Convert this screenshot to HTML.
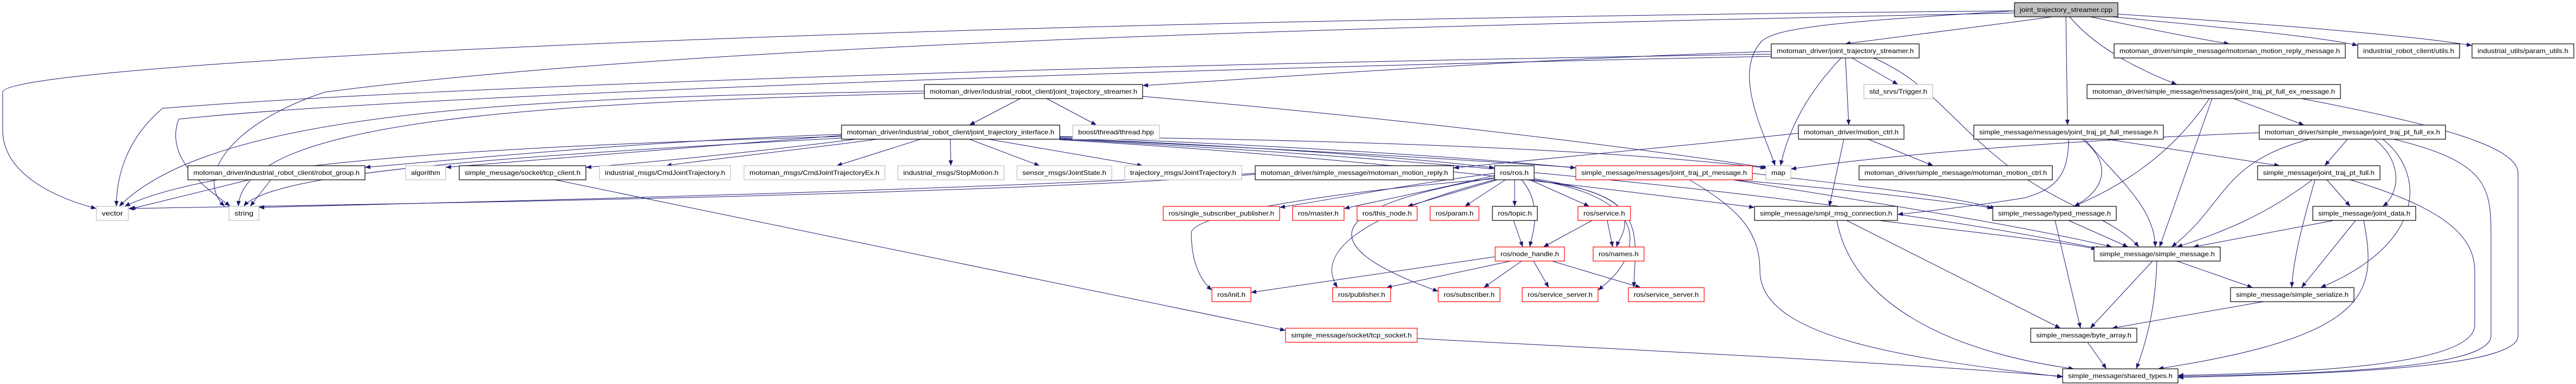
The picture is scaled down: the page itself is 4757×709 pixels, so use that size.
<!DOCTYPE html>
<html><head><meta charset="utf-8"><style>
html,body{margin:0;padding:0;background:#fff;}
svg{display:block;}
text{font-family:"Liberation Sans",sans-serif;font-size:12px;fill:#000;}
.b{fill:#fff;stroke:#000;stroke-width:1.2;}
.g{fill:#fff;stroke:#bfbfbf;stroke-width:1.2;}
.r{fill:#fff;stroke:#ff0000;stroke-width:1.2;}
.root{fill:#bfbfbf;stroke:#000;stroke-width:1.2;}
path.e{fill:none;stroke:#191970;stroke-width:1;marker-end:url(#a);}
</style></head><body>
<svg width="4757" height="709" viewBox="0 0 4757 709" xmlns="http://www.w3.org/2000/svg">
<defs><marker id="a" markerUnits="userSpaceOnUse" markerWidth="10" markerHeight="8" refX="10" refY="4" orient="auto"><path d="M0,0 L10,4 L0,8 z" fill="#191970"/></marker></defs>
<g>
<path class="e" d="M3790,31 C3650,50 3500,70 3407,81"/>
<path class="e" d="M3860,31 C3950,50 4050,70 4117,81"/>
<path class="e" d="M3900,31 C4100,50 4300,70 4354,84"/>
<path class="e" d="M3911,26 C4200,45 4450,65 4565,84"/>
<path class="e" d="M3822,31 C3880,100 3980,140 4020,156"/>
<path class="e" d="M3815,31 L3818,231"/>
<path class="e" d="M3720,20 C3400,40 3270,50 3250,80 C3200,140 3260,250 3278,306"/>
<path class="e" d="M3720,20 C1500,40 5,120 5,170 L5,240 C5,320 100,365 178,385"/>
<path class="e" d="M3720,24 C2500,50 1300,80 600,170 C420,230 360,330 415,381"/>
<path class="e" d="M3271,95 C2800,110 2400,140 2110,158"/>
<path class="e" d="M3420,107 L3505,156"/>
<path class="e" d="M3408,107 L3414,231"/>
<path class="e" d="M3400,107 C3330,180 3300,250 3288,306"/>
<path class="e" d="M3271,100 C2000,120 800,160 300,200 C230,260 215,330 215,381"/>
<path class="e" d="M3271,104 C2000,130 700,180 330,220 C300,300 400,360 425,381"/>
<path class="e" d="M3460,107 C3560,150 3600,220 3700,300 C3800,380 3900,400 3950,456"/>
<path class="e" d="M1884,182 L1790,231"/>
<path class="e" d="M1933,182 L2025,231"/>
<path class="e" d="M1707,168 C1000,180 400,200 220,381"/>
<path class="e" d="M1707,172 C1000,190 450,220 440,381"/>
<path class="e" d="M2110,178 C2600,220 3000,270 3265,310"/>
<path class="e" d="M1554,248 C1200,260 900,290 674,309"/>
<path class="e" d="M1554,250 C1300,270 1000,295 823,309"/>
<path class="e" d="M1580,257 C1400,280 1200,300 1082,309"/>
<path class="e" d="M1620,257 C1450,280 1300,295 1230,306"/>
<path class="e" d="M1700,257 L1545,306"/>
<path class="e" d="M1755,257 L1756,306"/>
<path class="e" d="M1790,257 L1920,306"/>
<path class="e" d="M1825,257 L2110,306"/>
<path class="e" d="M1957,255 C2300,270 2600,290 2760,310"/>
<path class="e" d="M1957,253 C2400,270 2700,290 2910,310"/>
<path class="e" d="M1957,252 C2600,260 3000,280 3261,310"/>
<path class="e" d="M1957,258 C2500,290 2900,340 3240,383"/>
<path class="e" d="M1957,256 C2700,290 3300,330 3680,384"/>
<path class="e" d="M1957,257 C2800,300 3500,380 3880,460"/>
<path class="e" d="M1554,252 C900,270 400,300 230,381"/>
<path class="e" d="M1554,255 C900,290 500,320 450,381"/>
<path class="e" d="M3321,246 C3100,270 2850,295 2684,310"/>
<path class="e" d="M3405,257 L3378,381"/>
<path class="e" d="M3450,257 L3570,306"/>
<path class="e" d="M2318,320 C1800,350 1000,370 478,383"/>
<path class="e" d="M2318,322 C1800,360 800,375 237,385"/>
<path class="e" d="M460,332 L240,386"/>
<path class="e" d="M500,332 L462,381"/>
<path class="e" d="M1025,332 L2374,610"/>
<path class="e" d="M2617,625 C3100,650 3500,670 3809,695"/>
<path class="e" d="M2760,320 C2600,340 2450,370 2363,383"/>
<path class="e" d="M2760,324 C2650,350 2550,370 2482,385"/>
<path class="e" d="M2765,332 L2599,381"/>
<path class="e" d="M2780,332 L2705,381"/>
<path class="e" d="M2797,332 L2797,381"/>
<path class="e" d="M2825,332 L2935,381"/>
<path class="e" d="M2810,332 C2850,380 2830,430 2825,456"/>
<path class="e" d="M2760,330 C2400,360 2200,400 2200,430 C2200,490 2220,520 2238,536"/>
<path class="e" d="M2833,330 C2900,340 2980,360 2995,390 C3010,420 2990,440 2985,456"/>
<path class="e" d="M2833,332 C2950,350 3010,390 3010,440 C3010,490 2970,520 2951,536"/>
<path class="e" d="M2833,334 C3000,350 3020,400 3020,470 L3017,531"/>
<path class="e" d="M2760,332 C2500,400 2430,470 2470,531"/>
<path class="e" d="M2760,328 C2450,380 2410,450 2656,538"/>
<path class="e" d="M2795,407 L2812,456"/>
<path class="e" d="M2940,407 L2850,456"/>
<path class="e" d="M2968,407 L2978,456"/>
<path class="e" d="M2761,474 L2310,540"/>
<path class="e" d="M2790,482 L2560,531"/>
<path class="e" d="M2810,482 L2740,531"/>
<path class="e" d="M2832,482 L2860,531"/>
<path class="e" d="M2866,482 L3030,531"/>
<path class="e" d="M3236,320 C3400,340 3600,360 3685,385"/>
<path class="e" d="M3200,332 C3500,380 3750,420 3900,456"/>
<path class="e" d="M3120,332 C3200,380 3250,420 3250,500 C3250,620 3500,660 3809,696"/>
<path class="e" d="M3470,407 C3650,430 3800,445 3872,460"/>
<path class="e" d="M3410,407 L3805,606"/>
<path class="e" d="M3392,407 C3420,560 3600,650 3830,681"/>
<path class="e" d="M4080,182 C4000,300 3900,350 3830,381"/>
<path class="e" d="M4085,182 L3988,456"/>
<path class="e" d="M4125,182 L4255,231"/>
<path class="e" d="M4250,182 C4500,230 4650,270 4650,320 L4650,620 C4650,680 4300,690 4022,697"/>
<path class="e" d="M3820,257 C3820,330 3790,350 3740,365 C3650,380 3560,390 3504,396"/>
<path class="e" d="M3845,257 C3900,300 3890,350 3830,381"/>
<path class="e" d="M3850,257 C3900,320 3980,380 3980,456"/>
<path class="e" d="M3890,257 L4210,306"/>
<path class="e" d="M4335,257 L4293,306"/>
<path class="e" d="M4385,257 C4440,300 4430,360 4400,381"/>
<path class="e" d="M4265,257 C4100,300 4110,380 4010,456"/>
<path class="e" d="M4400,257 C4480,320 4480,450 4285,531"/>
<path class="e" d="M4420,257 C4600,300 4600,350 4600,440 L4600,620 C4600,680 4300,690 4022,695"/>
<path class="e" d="M4172,245 C3800,260 3500,285 3307,312"/>
<path class="e" d="M4297,332 L4340,381"/>
<path class="e" d="M4270,332 C4180,400 4100,430 4020,456"/>
<path class="e" d="M4275,332 C4250,420 4235,480 4232,531"/>
<path class="e" d="M4340,332 C4500,380 4570,430 4570,500 L4570,600 C4570,670 4300,688 4022,693"/>
<path class="e" d="M3820,407 L3930,456"/>
<path class="e" d="M3795,407 L3842,606"/>
<path class="e" d="M4310,407 L4050,456"/>
<path class="e" d="M4350,407 L4250,531"/>
<path class="e" d="M4365,407 C4390,540 4380,620 3985,681"/>
<path class="e" d="M3975,482 L3860,606"/>
<path class="e" d="M3983,482 C3980,580 3960,640 3945,681"/>
<path class="e" d="M4020,482 L4160,531"/>
<path class="e" d="M4180,557 L3900,606"/>
<path class="e" d="M3855,632 L3890,681"/>
</g>
<g>
<rect class="root" x="3720" y="5" width="191" height="26"/><text x="3730" y="22" textLength="171" lengthAdjust="spacingAndGlyphs">joint_trajectory_streamer.cpp</text>
<rect class="b" x="3271" y="81" width="273" height="26"/><text x="3281" y="98" textLength="253" lengthAdjust="spacingAndGlyphs">motoman_driver/joint_trajectory_streamer.h</text>
<rect class="b" x="3904" y="81" width="427" height="26"/><text x="3914" y="98" textLength="407" lengthAdjust="spacingAndGlyphs">motoman_driver/simple_message/motoman_motion_reply_message.h</text>
<rect class="b" x="4354" y="81" width="188" height="26"/><text x="4364" y="98" textLength="168" lengthAdjust="spacingAndGlyphs">industrial_robot_client/utils.h</text>
<rect class="b" x="4565" y="81" width="188" height="26"/><text x="4575" y="98" textLength="168" lengthAdjust="spacingAndGlyphs">industrial_utils/param_utils.h</text>
<rect class="b" x="1707" y="156" width="403" height="26"/><text x="1717" y="173" textLength="383" lengthAdjust="spacingAndGlyphs">motoman_driver/industrial_robot_client/joint_trajectory_streamer.h</text>
<rect class="g" x="3442" y="156" width="127" height="26"/><text x="3452" y="173" textLength="107" lengthAdjust="spacingAndGlyphs">std_srvs/Trigger.h</text>
<rect class="b" x="3854" y="156" width="468" height="26"/><text x="3864" y="173" textLength="448" lengthAdjust="spacingAndGlyphs">motoman_driver/simple_message/messages/joint_traj_pt_full_ex_message.h</text>
<rect class="b" x="1554" y="231" width="403" height="26"/><text x="1564" y="248" textLength="383" lengthAdjust="spacingAndGlyphs">motoman_driver/industrial_robot_client/joint_trajectory_interface.h</text>
<rect class="g" x="1981" y="231" width="160" height="26"/><text x="1991" y="248" textLength="140" lengthAdjust="spacingAndGlyphs">boost/thread/thread.hpp</text>
<rect class="b" x="3321" y="231" width="195" height="26"/><text x="3331" y="248" textLength="175" lengthAdjust="spacingAndGlyphs">motoman_driver/motion_ctrl.h</text>
<rect class="b" x="3645" y="231" width="350" height="26"/><text x="3655" y="248" textLength="330" lengthAdjust="spacingAndGlyphs">simple_message/messages/joint_traj_pt_full_message.h</text>
<rect class="b" x="4172" y="231" width="344" height="26"/><text x="4182" y="248" textLength="324" lengthAdjust="spacingAndGlyphs">motoman_driver/simple_message/joint_traj_pt_full_ex.h</text>
<rect class="b" x="347" y="306" width="327" height="26"/><text x="357" y="323" textLength="307" lengthAdjust="spacingAndGlyphs">motoman_driver/industrial_robot_client/robot_group.h</text>
<rect class="g" x="749" y="306" width="74" height="26"/><text x="759" y="323" textLength="54" lengthAdjust="spacingAndGlyphs">algorithm</text>
<rect class="b" x="848" y="306" width="234" height="26"/><text x="858" y="323" textLength="214" lengthAdjust="spacingAndGlyphs">simple_message/socket/tcp_client.h</text>
<rect class="g" x="1107" y="306" width="242" height="26"/><text x="1117" y="323" textLength="222" lengthAdjust="spacingAndGlyphs">industrial_msgs/CmdJointTrajectory.h</text>
<rect class="g" x="1374" y="306" width="260" height="26"/><text x="1384" y="323" textLength="240" lengthAdjust="spacingAndGlyphs">motoman_msgs/CmdJointTrajectoryEx.h</text>
<rect class="g" x="1658" y="306" width="196" height="26"/><text x="1668" y="323" textLength="176" lengthAdjust="spacingAndGlyphs">industrial_msgs/StopMotion.h</text>
<rect class="g" x="1878" y="306" width="175" height="26"/><text x="1888" y="323" textLength="155" lengthAdjust="spacingAndGlyphs">sensor_msgs/JointState.h</text>
<rect class="g" x="2077" y="306" width="216" height="26"/><text x="2087" y="323" textLength="196" lengthAdjust="spacingAndGlyphs">trajectory_msgs/JointTrajectory.h</text>
<rect class="b" x="2318" y="306" width="366" height="26"/><text x="2328" y="323" textLength="346" lengthAdjust="spacingAndGlyphs">motoman_driver/simple_message/motoman_motion_reply.h</text>
<rect class="b" x="2760" y="306" width="73" height="26"/><text x="2770" y="323" textLength="53" lengthAdjust="spacingAndGlyphs">ros/ros.h</text>
<rect class="r" x="2910" y="306" width="326" height="26"/><text x="2920" y="323" textLength="306" lengthAdjust="spacingAndGlyphs">simple_message/messages/joint_traj_pt_message.h</text>
<rect class="g" x="3261" y="306" width="46" height="26"/><text x="3271" y="323" textLength="26" lengthAdjust="spacingAndGlyphs">map</text>
<rect class="b" x="3433" y="306" width="357" height="26"/><text x="3443" y="323" textLength="337" lengthAdjust="spacingAndGlyphs">motoman_driver/simple_message/motoman_motion_ctrl.h</text>
<rect class="b" x="4169" y="306" width="226" height="26"/><text x="4179" y="323" textLength="206" lengthAdjust="spacingAndGlyphs">simple_message/joint_traj_pt_full.h</text>
<rect class="g" x="178" y="381" width="59" height="26"/><text x="188" y="398" textLength="39" lengthAdjust="spacingAndGlyphs">vector</text>
<rect class="g" x="423" y="381" width="55" height="26"/><text x="433" y="398" textLength="35" lengthAdjust="spacingAndGlyphs">string</text>
<rect class="r" x="2148" y="381" width="215" height="26"/><text x="2158" y="398" textLength="195" lengthAdjust="spacingAndGlyphs">ros/single_subscriber_publisher.h</text>
<rect class="r" x="2387" y="381" width="95" height="26"/><text x="2397" y="398" textLength="75" lengthAdjust="spacingAndGlyphs">ros/master.h</text>
<rect class="r" x="2506" y="381" width="111" height="26"/><text x="2516" y="398" textLength="91" lengthAdjust="spacingAndGlyphs">ros/this_node.h</text>
<rect class="r" x="2641" y="381" width="90" height="26"/><text x="2651" y="398" textLength="70" lengthAdjust="spacingAndGlyphs">ros/param.h</text>
<rect class="b" x="2756" y="381" width="83" height="26"/><text x="2766" y="398" textLength="63" lengthAdjust="spacingAndGlyphs">ros/topic.h</text>
<rect class="r" x="2914" y="381" width="97" height="26"/><text x="2924" y="398" textLength="77" lengthAdjust="spacingAndGlyphs">ros/service.h</text>
<rect class="b" x="3240" y="381" width="264" height="26"/><text x="3250" y="398" textLength="244" lengthAdjust="spacingAndGlyphs">simple_message/smpl_msg_connection.h</text>
<rect class="b" x="3680" y="381" width="228" height="26"/><text x="3690" y="398" textLength="208" lengthAdjust="spacingAndGlyphs">simple_message/typed_message.h</text>
<rect class="b" x="4271" y="381" width="190" height="26"/><text x="4281" y="398" textLength="170" lengthAdjust="spacingAndGlyphs">simple_message/joint_data.h</text>
<rect class="r" x="2761" y="456" width="128" height="26"/><text x="2771" y="473" textLength="108" lengthAdjust="spacingAndGlyphs">ros/node_handle.h</text>
<rect class="r" x="2942" y="456" width="94" height="26"/><text x="2952" y="473" textLength="74" lengthAdjust="spacingAndGlyphs">ros/names.h</text>
<rect class="b" x="3867" y="456" width="233" height="26"/><text x="3877" y="473" textLength="213" lengthAdjust="spacingAndGlyphs">simple_message/simple_message.h</text>
<rect class="r" x="2238" y="531" width="72" height="26"/><text x="2248" y="548" textLength="52" lengthAdjust="spacingAndGlyphs">ros/init.h</text>
<rect class="r" x="2461" y="531" width="107" height="26"/><text x="2471" y="548" textLength="87" lengthAdjust="spacingAndGlyphs">ros/publisher.h</text>
<rect class="r" x="2656" y="531" width="114" height="26"/><text x="2666" y="548" textLength="94" lengthAdjust="spacingAndGlyphs">ros/subscriber.h</text>
<rect class="r" x="2811" y="531" width="140" height="26"/><text x="2821" y="548" textLength="120" lengthAdjust="spacingAndGlyphs">ros/service_server.h</text>
<rect class="r" x="3007" y="531" width="140" height="26"/><text x="3017" y="548" textLength="120" lengthAdjust="spacingAndGlyphs">ros/service_server.h</text>
<rect class="b" x="4119" y="531" width="228" height="26"/><text x="4129" y="548" textLength="208" lengthAdjust="spacingAndGlyphs">simple_message/simple_serialize.h</text>
<rect class="r" x="2374" y="606" width="243" height="26"/><text x="2384" y="623" textLength="223" lengthAdjust="spacingAndGlyphs">simple_message/socket/tcp_socket.h</text>
<rect class="b" x="3750" y="606" width="196" height="26"/><text x="3760" y="623" textLength="176" lengthAdjust="spacingAndGlyphs">simple_message/byte_array.h</text>
<rect class="b" x="3809" y="681" width="213" height="26"/><text x="3819" y="698" textLength="193" lengthAdjust="spacingAndGlyphs">simple_message/shared_types.h</text>
</g>
</svg>
</body></html>
